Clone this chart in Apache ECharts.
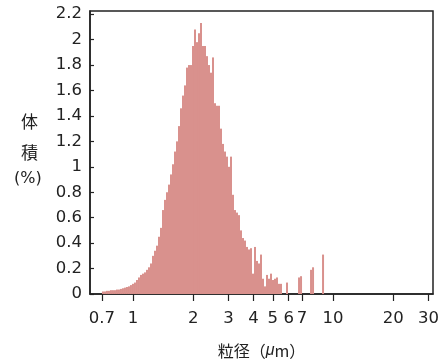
<!DOCTYPE html>
<html>
<head>
<meta charset="utf-8">
<script src="https://cdn.jsdelivr.net/npm/echarts@6/dist/echarts.min.js"></script>
<style>
  html, body { margin: 0; padding: 0; background: #fff; }
  #box { width: 442px; height: 360px; }
</style>
</head>
<body>
<div id="box"></div>
<script>
// particle size bins: log spaced, 100 per decade, starting at 0.70 um
var firstBin = 0.70;
var binsPerDecade = 100;

// volume % for each bin
var volume = [
  0.02, 0.02, 0.025, 0.025, 0.03, 0.03,
  0.03, 0.035, 0.035, 0.04, 0.045,
  0.05, 0.055, 0.06, 0.07, 0.08,
  0.09, 0.11, 0.13, 0.15, 0.16,
  0.17, 0.19, 0.21, 0.24, 0.30,
  0.34, 0.38, 0.45, 0.52, 0.66,
  0.74, 0.80, 0.86, 0.94, 1.02,
  1.12, 1.20, 1.32, 1.46, 1.56,
  1.64, 1.78, 1.80, 1.80, 1.95,
  2.08, 1.98, 2.05, 2.13, 1.95,
  1.95, 1.87, 1.80, 1.74, 1.86,
  1.50, 1.48, 1.48, 1.30, 1.18,
  1.12, 1.08, 1.00, 1.08, 0.78,
  0.66, 0.64, 0.62, 0.50, 0.44,
  0.42, 0.37, 0.35, 0.36, 0.16,
  0.37, 0.26, 0.24, 0.31, 0.12,
  0.06, 0.15, 0.12, 0.16, 0.11,
  0.12, 0.13, 0.08, 0.08, 0,
  0, 0.09, 0, 0, 0,
  0, 0, 0.13, 0.14, 0,
  0, 0, 0, 0.19, 0.21,
  0, 0, 0, 0, 0.31
];

var xTicks = [0.7, 1, 2, 3, 4, 5, 6, 7, 10, 20, 30];
var yTicks = [0, 0.2, 0.4, 0.6, 0.8, 1, 1.2, 1.4, 1.6, 1.8, 2, 2.2];

var barColor = '#d9918d';
var ink = '#222';
var font = '"DejaVu Sans", sans-serif';

var bins = [];
for (var i = 0; i < volume.length; i++) {
  var lo = firstBin * Math.pow(10, i / binsPerDecade);
  var hi = firstBin * Math.pow(10, (i + 1) / binsPerDecade);
  bins.push([lo, hi, volume[i]]);
}

var myChart = echarts.init(document.getElementById('box'));

var option = {
  animation: false,
  backgroundColor: '#fff',
  grid: {
    left: 90, right: 9, top: 11, bottom: 66,
    outerBoundsMode: 'none',
    containLabel: false,
    show: true, borderColor: ink, borderWidth: 1.5,
    backgroundColor: 'transparent'
  },
  xAxis: {
    type: 'log',
    logBase: 10,
    min: 0.61,
    max: 31.6,
    name: '粒径（{i|μ}m）',
    nameLocation: 'middle',
    nameGap: 49,
    nameTextStyle: {
      color: ink, fontSize: 16, fontFamily: '"Noto Sans CJK JP", sans-serif',
      rich: { i: { fontStyle: 'italic', fontSize: 16, color: ink, fontFamily: '"Liberation Sans", sans-serif' } }
    },
    axisLine: { lineStyle: { color: ink, width: 1.5 } },
    axisTick: { show: true, inside: false, length: 7, customValues: xTicks, lineStyle: { color: ink, width: 1.2 } },
    minorTick: { show: false },
    axisLabel: {
      customValues: xTicks, margin: 16, color: ink, fontSize: 16.5, fontFamily: font,
      formatter: function (v) { return String(Math.round(v * 10) / 10); }
    },
    splitLine: { show: false }
  },
  yAxis: {
    type: 'value',
    min: 0,
    max: 2.225,
    axisLine: { show: true, lineStyle: { color: ink, width: 1.5 } },
    axisTick: { show: true, inside: true, length: 4, customValues: yTicks, lineStyle: { color: ink, width: 1.2 } },
    axisLabel: {
      customValues: yTicks, margin: 8, color: ink, fontSize: 16.5, fontFamily: font,
      formatter: function (v) { return String(Math.round(v * 10) / 10); }
    },
    splitLine: { show: false }
  },
  graphic: [
    { type: 'text', left: 21, top: 113, style: { text: '体', fill: ink, font: '17px "Noto Sans CJK JP"' } },
    { type: 'text', left: 21, top: 144, style: { text: '積', fill: ink, font: '17px "Noto Sans CJK JP"' } },
    { type: 'text', left: 14, top: 171, style: { text: '(%)', fill: ink, font: '16px "DejaVu Sans"' } }
  ],
  series: [{
    type: 'custom',
    data: bins,
    encode: { x: [0, 1], y: 2 },
    renderItem: function (params, api) {
      var top = api.coord([api.value(0), api.value(2)]);
      var base = api.coord([api.value(1), 0]);
      return {
        type: 'rect',
        shape: { x: top[0], y: top[1], width: base[0] - top[0], height: base[1] - top[1] },
        style: { fill: barColor }
      };
    }
  }]
};

myChart.setOption(option);
</script>
</body>
</html>
